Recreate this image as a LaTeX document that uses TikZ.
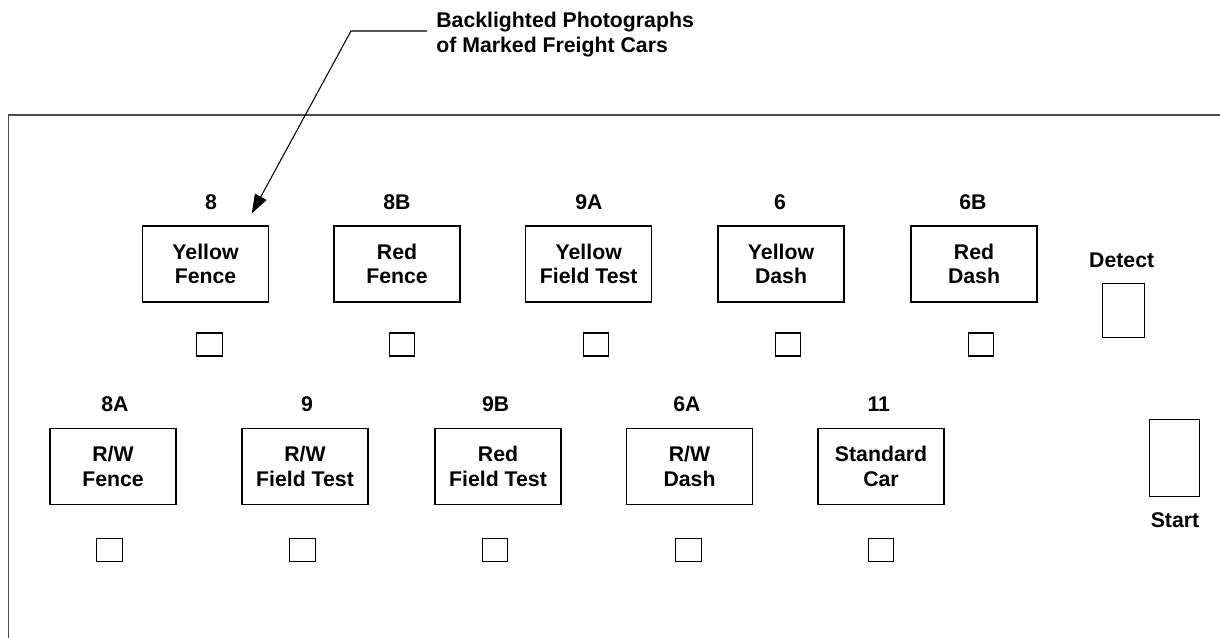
\documentclass[tikz,border=0pt]{standalone}
\usepackage{fontspec}
\setmainfont{Liberation Sans}
\usetikzlibrary{arrows.meta}

\begin{document}
\begin{tikzpicture}[x=0.02cm,y=-0.02cm,
  font=\fontsize{12.1}{14}\selectfont\bfseries,
  carbox/.style={draw,line width=0.7pt,minimum width=2.52cm,minimum height=1.52cm,
    inner sep=0pt,align=center},
  num/.style={inner sep=0pt},
  lamp/.style={draw,line width=0.7pt,minimum width=0.51cm,minimum height=0.46cm,inner sep=0pt},
  leader/.style={-{Triangle[length=0.38cm,width=0.26cm]},line width=0.6pt},
  frame/.style={line width=0.8pt,black!70}]
  \useasboundingbox (0,0) rectangle (1220,637);
  % panel outline, cut off at the right and bottom
  \draw[frame] (1221,115) -- (8.5,115) -- (8.5,638);
  % callout
  \node[num,anchor=west,align=left] (photos) at (436,34.5)
    {Backlighted Photographs\\of Marked Freight Cars};
  \coordinate (lead) at (427,31);
  \coordinate (bend) at (351,31);
  \coordinate (tip) at (251.7,213.5);
  \draw[leader] (lead) -- (bend) -- (tip);
  % upper row
  \node[carbox] (yfence) at (205.5,264) {Yellow\\Fence};
  \node[carbox] (rfence) at (397,264) {Red\\Fence};
  \node[carbox] (yfield) at (588.7,264) {Yellow\\Field Test};
  \node[carbox] (ydash) at (781,264) {Yellow\\Dash};
  \node[carbox] (rdash) at (974,264) {Red\\Dash};
  \node[num] (n8) at (211,201.7) {8};
  \node[num] (n8b) at (397,201.7) {8B};
  \node[num] (n9a) at (589,201.7) {9A};
  \node[num] (n6) at (780,201.7) {6};
  \node[num] (n6b) at (973,201.7) {6B};
  \node[lamp] (l8) at (209.5,344.5) {};
  \node[lamp] (l8b) at (402,344.5) {};
  \node[lamp] (l9a) at (596,344.5) {};
  \node[lamp] (l6) at (788,344.5) {};
  \node[lamp] (l6b) at (981,344.5) {};
  % lower row
  \node[carbox] (rwfence) at (113,466.5) {R/W\\Fence};
  \node[carbox] (rwfield) at (305,466.5) {R/W\\Field Test};
  \node[carbox] (rfield) at (498,466.5) {Red\\Field Test};
  \node[carbox] (rwdash) at (689.5,466.5) {R/W\\Dash};
  \node[carbox] (stdcar) at (881,466.5) {Standard\\Car};
  \node[num] (n8a) at (115,404) {8A};
  \node[num] (n9) at (307,404) {9};
  \node[num] (n9b) at (495.6,404) {9B};
  \node[num] (n6a) at (687,404) {6A};
  \node[num] (n11) at (878.8,404) {11};
  \node[lamp] (l8a) at (109.5,550) {};
  \node[lamp] (l9) at (302.5,550) {};
  \node[lamp] (l9b) at (495,550) {};
  \node[lamp] (l6a) at (688.5,550) {};
  \node[lamp] (l11) at (881,550) {};
  % buttons
  \node[num] (detect) at (1121.7,260.7) {Detect};
  \node[lamp,minimum width=0.84cm,minimum height=1.08cm] (detbox) at (1123.3,310.2) {};
  \node[lamp,minimum width=1.0cm,minimum height=1.54cm] (startbox) at (1174.7,457.7) {};
  \node[num] (start) at (1175,520) {Start};
\end{tikzpicture}
\end{document}
